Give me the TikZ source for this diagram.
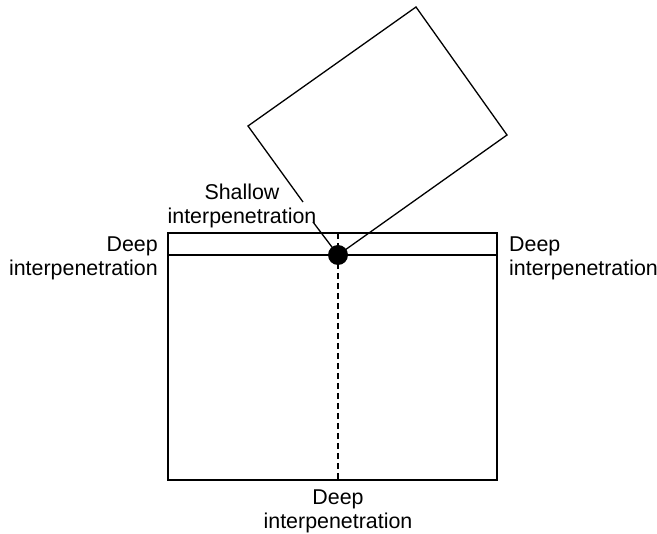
\documentclass[tikz,border=0pt]{standalone}
\usepackage{fontspec}
\setmainfont{Liberation Sans}
\begin{document}
\begin{tikzpicture}[x=1pt,y=-1pt,
  lbl/.style={font=\fontsize{21.4}{24}\selectfont, inner sep=0pt},
  edge/.style={line width=1.3pt, line join=miter}]
\useasboundingbox (0,0) rectangle (657,534);
% main block
\coordinate (tl) at (168,233);
\coordinate (br) at (497,480);
\draw[edge] (tl) rectangle (br);
\coordinate (hl) at (168,255);
\coordinate (hr) at (497,255);
\draw[edge] (hl) -- (hr);
\coordinate (dt) at (338,233);
\coordinate (db) at (338,480);
\draw[edge, dash pattern=on 6pt off 4pt] (dt) -- (db);
% tilted block
\coordinate (c1) at (338,255);
\coordinate (c2) at (248,126);
\coordinate (c3) at (416,7);
\coordinate (c4) at (507,135);
\coordinate (k1) at (303,202);
\coordinate (k2) at (313,222);
\draw[edge] (k1) -- (c2) -- (c3) -- (c4) -- (c1) -- (k2);
% labels
\node[lbl, align=center] (shallow) at (242,206) {Shallow\\interpenetration};
\node[lbl, align=right, anchor=east] (left) at (158,258) {Deep\\interpenetration};
\node[lbl, align=left, anchor=west] (right) at (509,258) {Deep\\interpenetration};
\node[lbl, align=center] (bottom) at (338,511) {Deep\\interpenetration};
% contact point
\fill (c1) circle (10);
\end{tikzpicture}
\end{document}
